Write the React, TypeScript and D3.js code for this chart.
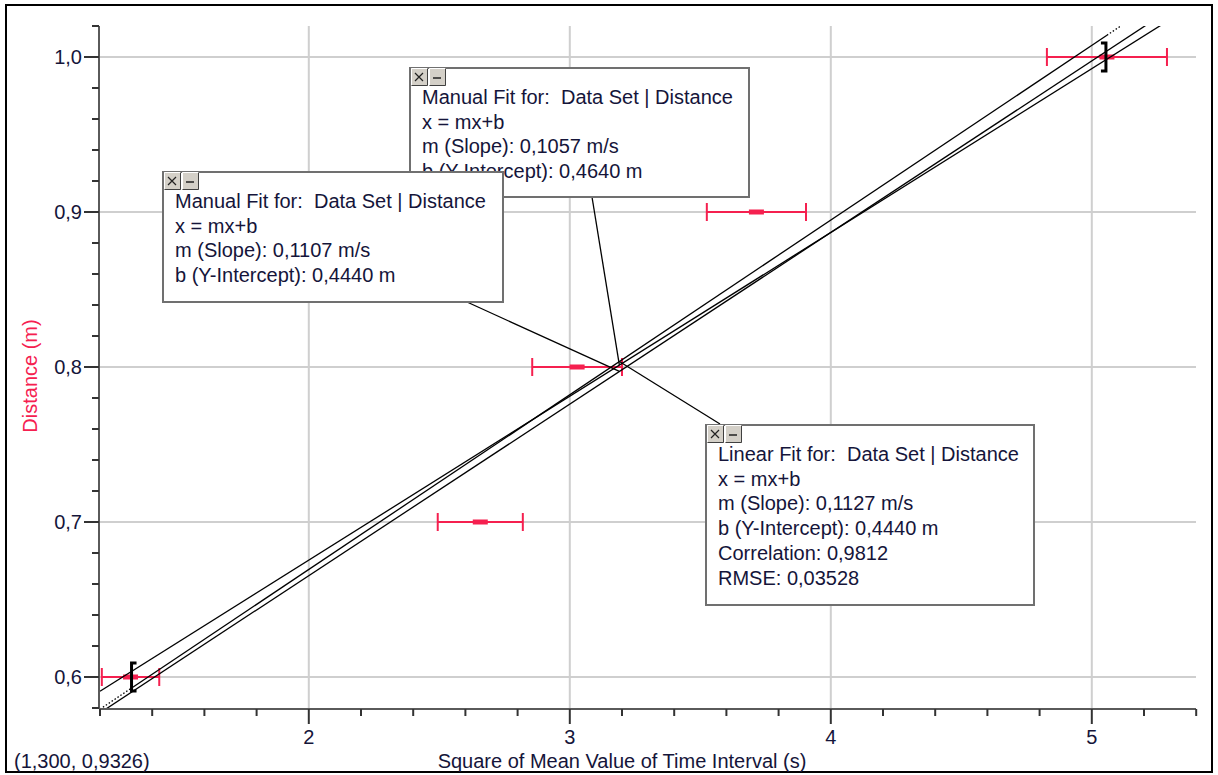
import React from 'react';
import * as d3 from 'd3';

// measured data (x = square of mean time interval, y = distance)
const timeSq = [1.317, 2.657, 3.028, 3.715, 5.058];
const distance = [0.6, 0.7, 0.8, 0.9, 1.0];
const timeSqErr = [0.11, 0.163, 0.172, 0.19, 0.23];

const xTicks = [2, 3, 4, 5];
const yTicks = [0.6, 0.7, 0.8, 0.9, 1.0];

// fits: slope, intercept
const fitSlopes = [0.1057, 0.1107, 0.1127];
const fitIntercepts = [0.464, 0.444, 0.444];
const fitKinds = ['Manual', 'Manual', 'Linear'];

const boxLines = [
  ['Manual Fit for:  Data Set | Distance', 'x = mx+b', 'm (Slope): 0,1057 m/s', 'b (Y-Intercept): 0,4640 m'],
  ['Manual Fit for:  Data Set | Distance', 'x = mx+b', 'm (Slope): 0,1107 m/s', 'b (Y-Intercept): 0,4440 m'],
  [
    'Linear Fit for:  Data Set | Distance',
    'x = mx+b',
    'm (Slope): 0,1127 m/s',
    'b (Y-Intercept): 0,4440 m',
    'Correlation: 0,9812',
    'RMSE: 0,03528',
  ],
];

const xLabel = 'Square of Mean Value of Time Interval (s)';
const yLabel = 'Distance (m)';
const cursorText = '(1,300, 0,9326)';

// layout
const W = 1218;
const H = 775;
const plot = { left: 100, right: 1196, top: 26, bottom: 708 };
const boxLayout = [
  { x: 410, y: 68, w: 339, h: 129, from: [592, 197] },
  { x: 163, y: 172, w: 340, h: 130, from: [467, 302] },
  { x: 706, y: 425, w: 328, h: 180, from: [720, 424] },
];
const anchorT = 3.19;
const red = '#f5204f';
const font = '"Liberation Sans", Arial, sans-serif';

const comma = (v: number, f: string) => d3.format(f)(v).replace('.', ',');

const Buttons = ({ x, y }: { x: number; y: number }) => (
  <g>
    {[0, 1].map((i) => (
      <g key={i} transform={`translate(${x + i * 18},${y})`}>
        <rect x={0} y={0} width={17} height={18} fill="#d4d0c8" />
        <path d="M0.5,17.5 V0.5 H16.5" fill="none" stroke="#ffffff" strokeWidth={1} />
        <path d="M0.5,17.5 H16.5 V0.5" fill="none" stroke="#404040" strokeWidth={1} />
        {i === 0 ? (
          <path d="M4,5 L12,13 M12,5 L4,13" stroke="#222" strokeWidth={1.2} />
        ) : (
          <path d="M4,10 H12" stroke="#222" strokeWidth={1.5} />
        )}
      </g>
    ))}
  </g>
);

export default function App() {
  const x = d3.scaleLinear().domain([1.2, 5.4]).range([plot.left, plot.left + 4.2 * 261]);
  const y = d3.scaleLinear().domain([0.58, 1.02]).range([plot.bottom, plot.top]);

  const xMinor = d3.range(1.2, 5.4001, 0.2).map((v) => +v.toFixed(2));
  const yMinor = d3.range(0.58, 1.0201, 0.02).map((v) => +v.toFixed(2));

  const fitPath = (k: number, t0: number, t1: number) => {
    const pts: [number, number][] = [t0, t1].map((t) => [x(t), y(fitSlopes[k] * t + fitIntercepts[k])]);
    return d3.line()(pts) as string;
  };

  const tFirst = timeSq[0];
  const tLast = timeSq[timeSq.length - 1];

  return (
    <svg
      width={W}
      height={H}
      style={{ position: 'absolute', left: 0, top: 0, background: '#fff' }}
      fontFamily={font}
    >
      <defs>
        <clipPath id="plotClip">
          <rect x={plot.left} y={plot.top} width={plot.right - plot.left} height={plot.bottom - plot.top} />
        </clipPath>
      </defs>
      <rect x={6} y={5} width={1206} height={767} fill="#fff" stroke="#000" strokeWidth={2} />

      {/* grid */}
      {yTicks.map((v) => (
        <line key={'gy' + v} x1={plot.left} x2={plot.right} y1={y(v)} y2={y(v)} stroke="#cfcfcf" strokeWidth={2} />
      ))}
      {xTicks.map((v) => (
        <line key={'gx' + v} x1={x(v)} x2={x(v)} y1={plot.top} y2={plot.bottom} stroke="#cfcfcf" strokeWidth={2} />
      ))}

      {/* axes */}
      <line x1={plot.left - 1} x2={plot.left - 1} y1={plot.top} y2={plot.bottom + 1} stroke="#5a5a5a" strokeWidth={2} />
      <line x1={plot.left - 1} x2={plot.right} y1={plot.bottom + 1} y2={plot.bottom + 1} stroke="#5a5a5a" strokeWidth={2} />
      {yMinor.map((v) => {
        const major = yTicks.some((t) => Math.abs(t - v) < 1e-6);
        return (
          <line
            key={'ty' + v}
            x1={plot.left - 1 - (major ? 15 : 7)}
            x2={plot.left - 1}
            y1={y(v)}
            y2={y(v)}
            stroke="#333"
            strokeWidth={2}
          />
        );
      })}
      {xMinor.map((v) => {
        const major = xTicks.some((t) => Math.abs(t - v) < 1e-6);
        return (
          <line
            key={'tx' + v}
            x1={x(v)}
            x2={x(v)}
            y1={plot.bottom + 1}
            y2={plot.bottom + 1 + (major ? 15 : 7)}
            stroke="#333"
            strokeWidth={2}
          />
        );
      })}
      {yTicks.map((v) => (
        <text key={'ly' + v} x={82} y={y(v)} dy="0.36em" textAnchor="end" fontSize={20} fill="#15153a">
          {comma(v, '.1f')}
        </text>
      ))}
      {xTicks.map((v) => (
        <text key={'lx' + v} x={x(v)} y={744} textAnchor="middle" fontSize={20} fill="#15153a">
          {v}
        </text>
      ))}
      <text x={622} y={768} textAnchor="middle" fontSize={20} fill="#15153a">
        {xLabel}
      </text>
      <text transform={`translate(37,376) rotate(-90)`} textAnchor="middle" fontSize={20} fill={red}>
        {yLabel}
      </text>
      <text x={14} y={768} fontSize={20} fill="#15153a">
        {cursorText}
      </text>

      {/* error bars */}
      {timeSq.map((t, i) => {
        const cy = y(distance[i]);
        const x0 = x(t - timeSqErr[i]);
        const x1 = x(t + timeSqErr[i]);
        return (
          <g key={'e' + i} stroke={red} strokeWidth={2}>
            <line x1={x0} x2={x1} y1={cy} y2={cy} />
            <line x1={x0} x2={x0} y1={cy - 9} y2={cy + 9} />
            <line x1={x1} x2={x1} y1={cy - 9} y2={cy + 9} />
            <rect x={x(t) - 7.5} y={cy - 2.5} width={15} height={5} fill={red} stroke="none" />
          </g>
        );
      })}

      {/* fit lines */}
      <g clipPath="url(#plotClip)" fill="none" stroke="#000" strokeWidth={1.3}>
        {fitKinds.map((kind, k) =>
          kind === 'Linear' ? (
            <g key={'f' + k}>
              <path d={fitPath(k, 1.2, tFirst)} strokeDasharray="1.5,2" />
              <path d={fitPath(k, tFirst, tLast)} />
              <path d={fitPath(k, tLast, 5.4)} strokeDasharray="1.5,2" />
            </g>
          ) : (
            <path key={'f' + k} d={fitPath(k, 1.2, 5.4)} />
          )
        )}
      </g>

      {/* range brackets */}
      <g fill="none" stroke="#000" strokeWidth={3}>
        <path
          d={`M${x(tFirst) + 6},${y(distance[0] + 0.009)} H${x(tFirst) + 1} V${y(distance[0] - 0.009)} H${x(tFirst) + 6}`}
        />
        <path
          d={`M${x(tLast) - 6},${y(distance[4] + 0.009)} H${x(tLast) - 1} V${y(distance[4] - 0.009)} H${x(tLast) - 6}`}
        />
      </g>

      {/* leader lines */}
      {boxLayout.map((b, k) => (
        <line
          key={'ld' + k}
          x1={b.from[0]}
          y1={b.from[1]}
          x2={x(anchorT)}
          y2={y(fitSlopes[k] * anchorT + fitIntercepts[k])}
          stroke="#000"
          strokeWidth={1.3}
        />
      ))}

      {/* annotation boxes */}
      {boxLayout.map((b, k) => (
        <g key={'b' + k}>
          <rect x={b.x} y={b.y} width={b.w} height={b.h} fill="#fff" stroke="#707070" strokeWidth={2} />
          <Buttons x={b.x + 1} y={b.y} />
          {boxLines[k].map((s, j) => (
            <text
              key={j}
              x={b.x + 12}
              y={b.y + 36 + j * 24.7}
              fontSize={20}
              fill="#15153a"
              style={{ whiteSpace: 'pre' }}
            >
              {s}
            </text>
          ))}
        </g>
      ))}
    </svg>
  );
}
